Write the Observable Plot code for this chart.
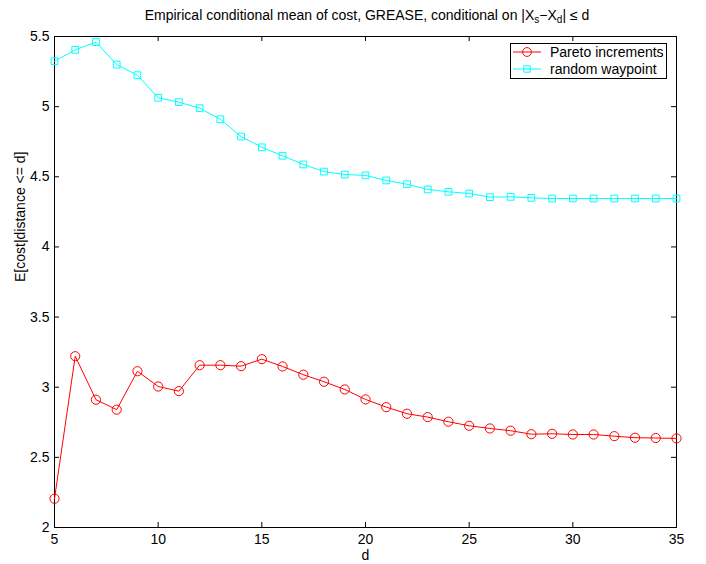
<!DOCTYPE html>
<html>
<head>
<meta charset="utf-8">
<script src="https://cdn.jsdelivr.net/npm/d3@7"></script>
<script src="https://cdn.jsdelivr.net/npm/@observablehq/plot@0.6"></script>
<style>
  body { margin: 0; background: #fff; font-family: "Liberation Sans", Arial, Helvetica, sans-serif; }
  #wrap { position: relative; width: 706px; height: 564px; }
  #title { width: 626px; margin-left: 54px; height: 28px; line-height: 30px; text-align: center; font-size: 14px; color: #000; white-space: nowrap; }
  #title sub { font-size: 10px; vertical-align: -3px; line-height: 0; }
  #legend { position: absolute; left: 510px; top: 43px; width: 155px; height: 34px; border: 1px solid #000; background: #fff; }
</style>
</head>
<body>
<div id="wrap">
  <div id="title">Empirical conditional mean of cost, GREASE, conditional on |X<sub>s</sub>−X<sub>d</sub>| ≤ d</div>
  <div id="chart"></div>
  <div id="legend"></div>
</div>
<script>
const dValues = [5,6,7,8,9,10,11,12,13,14,15,16,17,18,19,20,21,22,23,24,25,26,27,28,29,30,31,32,33,34,35];
const paretoValues = [2.205,3.221,2.911,2.840,3.114,3.005,2.972,3.157,3.157,3.150,3.200,3.148,3.089,3.039,2.984,2.913,2.858,2.811,2.787,2.754,2.725,2.706,2.690,2.665,2.668,2.663,2.663,2.651,2.640,2.638,2.635];
const waypointValues = [5.324,5.405,5.460,5.300,5.224,5.063,5.032,4.989,4.910,4.787,4.710,4.650,4.588,4.537,4.516,4.510,4.474,4.447,4.410,4.393,4.381,4.355,4.357,4.350,4.345,4.345,4.345,4.345,4.345,4.345,4.345];
const seriesNames = ["Pareto increments", "random waypoint"];
const seriesColors = ["#ff0000", "#00ffff"];
const seriesSymbols = ["circle", "square"];
const xTicks = [5,10,15,20,25,30,35];
const yTicks = [2,2.5,3,3.5,4,4.5,5,5.5];
const xLabel = "d";
const yLabel = "E[cost|distance <= d]";

const rows = [];
[paretoValues, waypointValues].forEach((vals, s) => {
  vals.forEach((v, i) => rows.push({d: dValues[i], v, s: seriesNames[s]}));
});

const W = 706, H = 536, mL = 54, mR = 30, mT = 8, mB = 37;
const fw = W - mL - mR, fh = H - mT - mB, tl = 5;
const font = '"Liberation Sans", Arial, Helvetica, sans-serif';

const chart = Plot.plot({
  width: W, height: H,
  marginLeft: mL, marginRight: mR, marginTop: mT, marginBottom: mB,
  style: {fontFamily: font, fontSize: "14px", color: "#000", background: "#fff"},
  x: {domain: [5, 35]},
  y: {domain: [2, 5.5]},
  color: {domain: seriesNames, range: seriesColors},
  symbol: {domain: seriesNames, range: seriesSymbols},
  marks: [
    Plot.axisX(xTicks, {tickSize: 0, tickPadding: 7, label: null, fontSize: 14}),
    Plot.axisY(yTicks, {tickSize: 0, tickPadding: 5, label: null, fontSize: 14, tickFormat: d => String(d)}),
    Plot.tickX(xTicks, {x: d => d, stroke: "#000", insetTop: fh - tl}),
    Plot.tickX(xTicks, {x: d => d, stroke: "#000", insetBottom: fh - tl}),
    Plot.tickY(yTicks, {y: d => d, stroke: "#000", insetRight: fw - tl}),
    Plot.tickY(yTicks, {y: d => d, stroke: "#000", insetLeft: fw - tl}),
    Plot.frame({stroke: "#000", strokeWidth: 1}),
    Plot.line(rows, {x: "d", y: "v", z: "s", stroke: "s", strokeWidth: 1}),
    Plot.dot(rows.filter(r => r.s === seriesNames[0]), {x: "d", y: "v", stroke: "s", symbol: "s", r: 4.6, fill: "none", strokeWidth: 1}),
    Plot.dot(rows.filter(r => r.s === seriesNames[1]), {x: "d", y: "v", stroke: "s", symbol: "s", r: 3.8, fill: "none", strokeWidth: 1}),
    Plot.text([xLabel], {frameAnchor: "bottom", lineAnchor: "middle", dy: 28, text: d => d, fontSize: 14}),
    Plot.text([yLabel], {frameAnchor: "left", lineAnchor: "middle", rotate: -90, dx: -34, text: d => d, fontSize: 14})
  ]
});
document.getElementById("chart").appendChild(chart);

// legend
const ns = "http://www.w3.org/2000/svg";
const lg = document.getElementById("legend");
const ls = document.createElementNS(ns, "svg");
ls.setAttribute("width", 155); ls.setAttribute("height", 34);
ls.style.fontFamily = font;
ls.style.fontSize = "14px";
ls.style.display = "block";
seriesNames.forEach((name, i) => {
  const cy = 8 + i * 17;
  const ln = document.createElementNS(ns, "line");
  ln.setAttribute("x1", 2); ln.setAttribute("x2", 30); ln.setAttribute("y1", cy); ln.setAttribute("y2", cy);
  ln.setAttribute("stroke", seriesColors[i]);
  ls.appendChild(ln);
  const sym = d3.symbol(seriesSymbols[i] === "circle" ? d3.symbolCircle : d3.symbolSquare, seriesSymbols[i] === "circle" ? Math.PI * 4.4 * 4.4 : Math.PI * 3.6 * 3.6)();
  const p = document.createElementNS(ns, "path");
  p.setAttribute("d", sym); p.setAttribute("transform", `translate(16,${cy})`);
  p.setAttribute("fill", "none"); p.setAttribute("stroke", seriesColors[i]);
  ls.appendChild(p);
  const t = document.createElementNS(ns, "text");
  t.setAttribute("x", 39); t.setAttribute("y", cy); t.setAttribute("dy", "0.35em");
  t.textContent = name;
  ls.appendChild(t);
});
lg.appendChild(ls);
</script>
</body>
</html>
